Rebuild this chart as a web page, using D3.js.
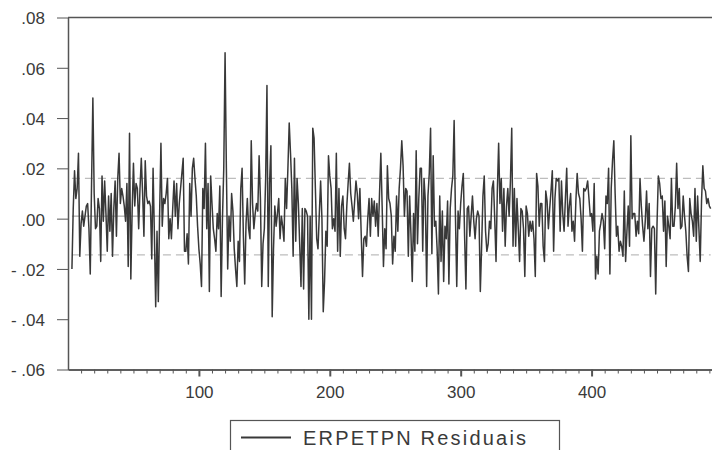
<!DOCTYPE html>
<html>
<head>
<meta charset="utf-8">
<script src="https://cdn.jsdelivr.net/npm/d3@7"></script>
<style>
  body { margin: 0; background: #fff; }
  svg text { font-family: "Liberation Sans", Arial, Helvetica, sans-serif; fill: #3a3a3a; }
</style>
</head>
<body>
<div id="viz-container"></div>
<script>
// residual series (observations 3..491)
const firstObs = 3;
const residuals = [
  -.020, .004, .019, .008, .012, .026, -.015, -.002, .003, -.003,
  .001, .005, .006, -.004, -.022, .014, .048, .010, -.004, -.003,
  .008, .004, -.017, .017, -.001, .015, .002, -.013, .009, -.005,
  .010, -.015, .004, .015, -.007, .016, .026, .006, .012, .009,
  .005, -.001, .014, -.019, .034, -.024, .003, .022, .005, .014,
  .012, -.004, .012, .024, .010, -.007, .023, .009, .006, .007,
  .005, -.016, .020, -.006, -.035, -.005, -.033, .002, .030, -.003,
  .008, .006, .010, .016, -.008, .000, -.008, .004, .015, .001,
  .014, -.004, .006, .012, .018, .024, -.013, -.013, -.006, -.018,
  .014, .001, .020, .024, .016, .009, -.003, -.012, -.018, -.027,
  .012, .004, .030, -.004, .014, -.029, .017, .006, -.004, -.008,
  -.013, .002, -.004, .013, -.031, .000, .020, .066, .020,
  -.020, .001, -.009, .010, .003, -.012, -.020, -.027, -.009, -.017,
  .012, .020, -.007, -.026, -.002, .008, -.004, -.008, .031, .006,
  -.004, .002, .006, .003, .025, .008, -.027, -.010, -.004, .016,
  .053, -.027, .014, .029, -.039, -.012, .005, -.003, .002, .008,
  -.008, .001, -.003, -.009, .016, .004, .020, .038, .026, .012,
  -.015, .024, -.009, .016, .006, -.010, -.027, .004, -.028, .004,
  .003, .001, -.040, .001, -.040, .036, .032, .012, -.008, -.012,
  .002, .015, .000, -.037, -.025, -.005, -.011, .025, .017, .012,
  -.004, .000, -.005, .026, -.013, .012, -.015, .005, .009, -.004,
  -.008, .005, .014, .022, .010, .005, -.001, .007, .015, .010,
  .000, .012, -.006, -.023, -.008, -.007, -.011, .000, .008, -.007,
  .008, .001, .007, -.003, .006, -.007, .010, .026, .005, -.019,
  -.004, -.012, .021, .008, .006, .001, -.018,
  -.007, -.013, .009, -.005, .012, .020, .031, .021, .001, .012,
  .011, -.015, .009, -.006, -.025, .002, -.013, .027, -.010, .008,
  .020, .020, -.013, .016, .007, -.027, .009, .018, .036, -.014,
  .025, -.003, -.001, -.012, -.030, .009, -.017, .003, -.025, -.003,
  -.008, .007, -.026, .004, .012, .017, .039, .001, -.027, .003,
  -.004, .006, .013, .018, -.007, -.028, .004, .005, -.007, .001,
  .009, -.001, -.008, .000, .003, .001, -.029, -.011, .009, .017,
  -.005, -.013, -.010, -.001, -.004, .012, .015, .000, -.017, .011,
  .030, .006, .016, -.005, .012, -.011, .005, .012, .001, .015,
  .036, -.011, .012, -.011, .008, -.004, -.017, .004, .003, -.004,
  -.023, .005, .002, -.007, -.001, -.005, -.001, -.008, -.023, .018,
  .013, -.003, .006, .006, -.011, -.017, .011, .007, -.004, .004,
  .011, .019, -.013,
  .008, .016, .015, .016, -.005, .015, .002, -.005, .008, .020,
  -.003, .005, .010, -.005, -.001, -.009, .007, .018, .010, .008,
  .000, -.013, .012, .011, .012, .015, .008, .001, .002, -.005,
  .014, -.024, -.015, -.022, -.005, -.002, .002, -.001, -.012, .009,
  .006, .020, -.022, .012, .023, .031, .010, -.007, -.003, -.013,
  -.009, -.011, -.015, .011, -.017, -.005, .005, -.011, .033, .000,
  .002, .002, -.007, -.001, -.006, .016, .005, -.003, -.009, -.001,
  .011, -.004, .006, -.023, -.004, -.003, -.004, -.030, -.002, .017,
  .014, .008, .009, -.005, .007, -.019, .001, -.003, -.008, .016,
  -.003, -.003, .005, .022, .004, .012, -.004, -.003, .009, .001,
  -.005, -.015, -.021, .008, .002, -.001, -.007, .012, -.009, .009,
  -.004, -.017, .007, .021, .012, .011, .006, .008, .005, .004
];

const meanLine = [0.001];
const bandLines = [0.016, -0.0144];

const yTicks = [.08, .06, .04, .02, 0, -.02, -.04, -.06];
const yTickLabels = ['.08', '.06', '.04', '.02', '.00', '- .02', '- .04', '- .06'];
const xMajorTicks = [100, 200, 300, 400];
const seriesName = 'ERPETPN Residuais';

const W = 712, H = 450;
const plot = {left: 68, right: 712, top: 17.5, bottom: 369.5};
const axisColor = '#555';

const svg = d3.select('#viz-container')
  .append('svg')
  .attr('width', W)
  .attr('height', H);

const x = d3.scaleLinear()
  .domain([0, 492])
  .range([plot.left, plot.right]);

const y = d3.scaleLinear()
  .domain([-.06, .08])
  .range([plot.bottom, plot.top]);

// reference lines
const xs = x(firstObs), xe = x(firstObs + residuals.length - 1);
svg.selectAll('line.mean')
  .data(meanLine)
  .join('line')
  .attr('x1', xs).attr('x2', xe)
  .attr('y1', d => y(d)).attr('y2', d => y(d))
  .attr('stroke', '#9a9a9a')
  .attr('stroke-width', 1);
svg.selectAll('line.band')
  .data(bandLines)
  .join('line')
  .attr('x1', xs).attr('x2', xe)
  .attr('y1', d => y(d)).attr('y2', d => y(d))
  .attr('stroke', '#bdbdbd')
  .attr('stroke-width', 1.2)
  .attr('stroke-dasharray', '8,5');

// residual line
const line = d3.line()
  .x((d, i) => x(firstObs + i))
  .y(d => y(d));
svg.append('path')
  .datum(residuals)
  .attr('d', line)
  .attr('fill', 'none')
  .attr('stroke', '#383838')
  .attr('stroke-width', 1.5)
  .attr('stroke-linejoin', 'round');

// y axis
const yAxis = svg.append('g')
  .attr('transform', `translate(${plot.left},0)`)
  .call(d3.axisLeft(y)
    .tickValues(yTicks)
    .tickFormat((d, i) => yTickLabels[i])
    .tickSize(11)
    .tickSizeOuter(0)
    .tickPadding(12));
yAxis.selectAll('text').attr('font-size', 17).attr('dy', '0.38em');

// x axis: minor + major ticks
svg.append('g')
  .attr('transform', `translate(0,${plot.bottom})`)
  .call(d3.axisBottom(x)
    .tickValues(d3.range(10, 491, 10).filter(v => v % 100 !== 0))
    .tickFormat('')
    .tickSize(4)
    .tickSizeOuter(0));
const xAxis = svg.append('g')
  .attr('transform', `translate(0,${plot.bottom})`)
  .call(d3.axisBottom(x)
    .tickValues(xMajorTicks)
    .tickFormat(d3.format('d'))
    .tickSize(7)
    .tickSizeOuter(0)
    .tickPadding(9));
xAxis.selectAll('text').attr('font-size', 17);
xAxis.selectAll('.tick line').attr('stroke-width', 2);

svg.selectAll('.domain, .tick line').attr('stroke', axisColor);
svg.selectAll('.domain').attr('stroke-width', 1.5);

// top frame line
svg.append('line')
  .attr('x1', plot.left).attr('x2', plot.right)
  .attr('y1', y(.08)).attr('y2', y(.08))
  .attr('stroke', axisColor)
  .attr('stroke-width', 1.5);

// legend
const lg = svg.append('g');
lg.append('rect')
  .attr('x', 230.5).attr('y', 420.5)
  .attr('width', 329).attr('height', 40)
  .attr('fill', 'none')
  .attr('stroke', axisColor)
  .attr('stroke-width', 1.2);
lg.append('line')
  .attr('x1', 241).attr('x2', 291)
  .attr('y1', 437.5).attr('y2', 437.5)
  .attr('stroke', '#383838')
  .attr('stroke-width', 2);
lg.append('text')
  .attr('x', 303).attr('y', 445)
  .attr('font-size', 20)
  .attr('letter-spacing', '2.2px')
  .text(seriesName);
</script>
</body>
</html>
